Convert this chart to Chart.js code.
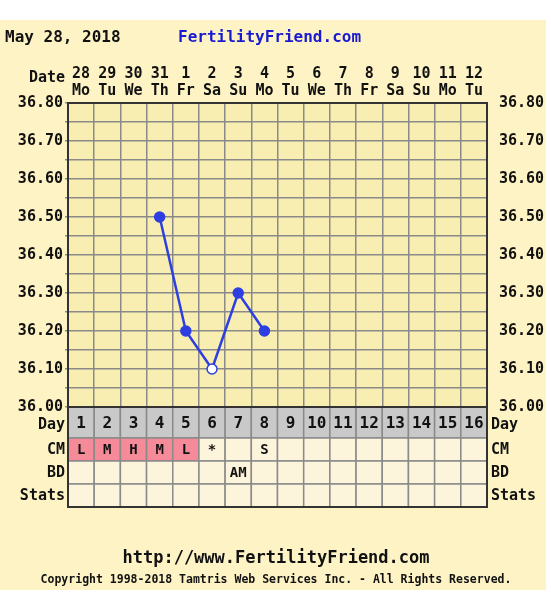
<!DOCTYPE html>
<html><head><meta charset="utf-8">
<script src="https://cdn.jsdelivr.net/npm/chart.js@4/dist/chart.umd.min.js"></script>
<style>html,body{margin:0;padding:0;background:#fff}#w{width:551px;height:600px}</style>
</head><body><div id="w"><canvas id="c" width="551" height="600"></canvas></div>
<script>
const dates=["28","29","30","31","1","2","3","4","5","6","7","8","9","10","11","12"];
const weekdays=["Mo","Tu","We","Th","Fr","Sa","Su","Mo","Tu","We","Th","Fr","Sa","Su","Mo","Tu"];
const temps=[null,null,null,36.50,36.20,36.10,36.30,36.20,null,null,null,null,null,null,null,null];
const openPoints=[5];
const cycleDays=["1","2","3","4","5","6","7","8","9","10","11","12","13","14","15","16"];
const cm=["L","M","H","M","L","*","","S","","","","","","","",""];
const cmFertile=[true,true,true,true,true,false,false,false,false,false,false,false,false,false,false,false];
const bd=["","","","","","","AM","","","","","","","","",""];
const yTicks=[36.0,36.1,36.2,36.3,36.4,36.5,36.6,36.7,36.8];

const FF='"DejaVu Sans Mono", monospace';
const F='bold 15px '+FF;
const labels=dates.map((d,i)=>[d,weekdays[i]]);
const extras={id:'extras',
 beforeDraw(ch){const c=ch.ctx,a=ch.chartArea;c.save();
  c.fillStyle='#fef3c5';c.fillRect(0,20,546,570);
  c.fillStyle='#f9eeb2';c.fillRect(a.left,a.top,a.right-a.left,a.bottom-a.top);c.restore();},
 afterDraw(ch){const c=ch.ctx,a=ch.chartArea,x=ch.scales.x;c.save();
  const w=(a.right-a.left)/16;
  const rows=[{t:'Day',y0:a.bottom,y1:a.bottom+31},{t:'CM',y0:a.bottom+31,y1:a.bottom+54},{t:'BD',y0:a.bottom+54,y1:a.bottom+77},{t:'Stats',y0:a.bottom+77,y1:a.bottom+100}];
  rows.forEach((r,ri)=>{
   for(let i=0;i<16;i++){const cx=x.getPixelForValue(i),l=cx-w/2;
    c.fillStyle=ri==0?'#c9c9c9':(ri==1&&cmFertile[i]?'#f58a98':'#fdf4dc');
    c.fillRect(l,r.y0,w,r.y1-r.y0);
    c.strokeStyle='#8a8a8a';c.lineWidth=1.5;c.strokeRect(l,r.y0,w,r.y1-r.y0);
    const txt=ri==0?cycleDays[i]:ri==1?cm[i]:ri==2?bd[i]:'';
    c.fillStyle='#111';c.font=ri==0?'bold 16px '+FF:'bold 14px '+FF;c.textAlign='center';c.textBaseline='middle';
    if(txt)c.fillText(txt,cx,(r.y0+r.y1)/2+1);}
   c.font=F;c.fillStyle='#111';c.textBaseline='middle';
   c.textAlign='right';c.fillText(r.t,65,(r.y0+r.y1)/2+(ri==0?3:1));
   c.textAlign='left';c.fillText(r.t,491,(r.y0+r.y1)/2+(ri==0?3:1));
  });
  c.strokeStyle='#333';c.lineWidth=2;c.strokeRect(a.left,a.top,a.right-a.left,a.bottom+100-a.top);
  c.beginPath();c.moveTo(a.left,a.bottom);c.lineTo(a.right,a.bottom);c.stroke();
  c.fillStyle='#111';c.font='bold 16px '+FF;c.textAlign='left';c.textBaseline='alphabetic';
  c.fillText('May 28, 2018',5,42);
  c.fillStyle='#1a1ad0';c.fillText('FertilityFriend.com',178,42);
  c.fillStyle='#111';c.font=F;c.textAlign='right';c.fillText('Date',65,82);
  c.textAlign='center';c.font='bold 17px '+FF;c.fillText('http://www.FertilityFriend.com',276,563);
  c.font='bold 11.5px '+FF;c.fillText('Copyright 1998-2018 Tamtris Web Services Inc. - All Rights Reserved.',276,583);
  c.restore();}};
const yTickOpts={autoSkip:false,color:'#111',font:{family:FF,size:15,weight:'bold'},
 callback:v=>{const r=Math.round(v*100)/100;return yTicks.some(t=>Math.abs(t-r)<1e-6)?r.toFixed(2):'';}};
new Chart(document.getElementById('c'),{type:'line',
 data:{labels,datasets:[{data:temps,borderColor:'#2d3fe0',borderWidth:2.5,spanGaps:false,
  pointRadius:5,pointBorderWidth:1.5,pointBorderColor:'#2d3fe0',
  pointBackgroundColor:temps.map((t,i)=>openPoints.includes(i)?'#ffffff':'#2d3fe0'),
  pointStyle:'circle'}]},
 options:{responsive:false,animation:false,devicePixelRatio:1,
  layout:{padding:{top:58,bottom:193,left:0,right:0}},
  plugins:{legend:{display:false},tooltip:{enabled:false}},
  scales:{
   x:{position:'top',offset:true,grid:{color:'#8a8a8a',lineWidth:1.5,offset:true,drawTicks:false},border:{display:false},
     afterFit:s=>{s.height=45},
     ticks:{color:'#111',padding:3,maxRotation:0,autoSkip:false,font:{family:FF,size:15,weight:'bold',lineHeight:1.15}}},
   y:{min:36.0,max:36.8,position:'left',afterFit:s=>{s.width=68},
     ticks:Object.assign({stepSize:0.05,padding:2},yTickOpts),
     grid:{color:'#8a8a8a',lineWidth:1.5,drawTicks:true,tickLength:3},border:{display:false}},
   y2:{min:36.0,max:36.8,position:'right',afterFit:s=>{s.width=64},
     ticks:Object.assign({stepSize:0.05,padding:4},yTickOpts),
     grid:{display:false},border:{display:false}}}},
 plugins:[extras]});
</script></body></html>
